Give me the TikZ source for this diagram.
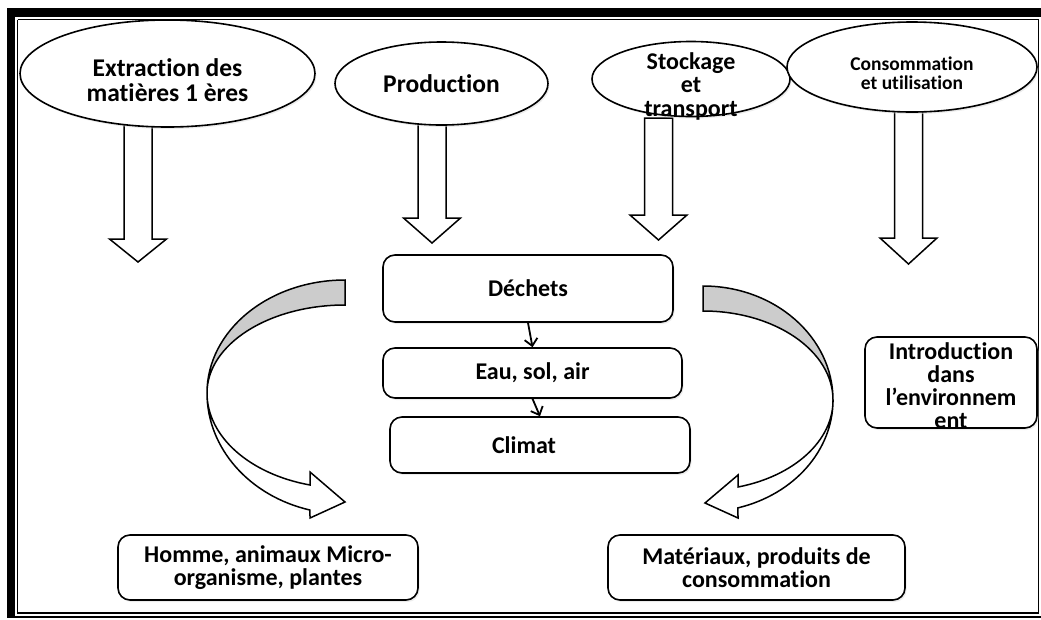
\documentclass[tikz,border=0pt]{standalone}
\usepackage{fontspec}
\setmainfont{Carlito}[Ligatures=NoCommon]
\usetikzlibrary{shapes.geometric,arrows.meta,shadows}

\begin{document}
\begin{tikzpicture}[
  x=1pt, y=-1pt, line width=1.6pt,
  shd/.style={drop shadow={shadow xshift=1.5pt, shadow yshift=-2pt, fill=black!15}},
  stage/.style={draw, ellipse, inner sep=0pt, align=center, fill=white, shd},
  box/.style={draw, rounded corners=12pt, inner sep=0pt, align=center, fill=white, shd},
  blk/.style={draw, fill=white, line width=1.5pt, line join=miter},
  lnk/.style={-{Straight Barb[length=7pt,width=13pt]}, line width=1.8pt},
  fbig/.style={font=\fontsize{25.5}{25}\selectfont\bfseries},
  fmid/.style={font=\fontsize{24}{23}\selectfont\bfseries},
  fstk/.style={font=\fontsize{24}{23.5}\selectfont\bfseries},
  fsml/.style={font=\fontsize{19.5}{18.5}\selectfont\bfseries}
]
\useasboundingbox (0,0) rectangle (1041,619);
% ---------------- frame ------------------------------------------------
\fill (7,8) rectangle (1041,17);
\fill (7,8) rectangle (15,617.5);
\draw[line width=1.2pt] (17.5,19.5) -- (1038.5,19.5) -- (1038.5,613);
\draw[line width=1.2pt] (17.5,19.5) -- (17.5,613);
\draw[line width=2.2pt] (17,613) -- (1039,613);
\draw[line width=1.2pt] (15,617) -- (1041,617);

% ---------------- block arrows from the stages ---------------------------
\foreach \cx/\ya/\yb/\yc in {138/123/239/262, 432/124/218/243, 658.5/118/215/240, 908.5/110/238/264}
  \draw[blk] (\cx-14,\ya) -- (\cx+14,\ya) -- (\cx+14,\yb) -- (\cx+28.5,\yb)
    -- (\cx,\yc) -- (\cx-28.5,\yb) -- (\cx-14,\yb) -- cycle;

% ---------------- stages ------------------------------------------------
\node[stage, minimum width=295pt, minimum height=107pt] (extr) at (167.5,73.5) {};
\node[fbig, align=center] (extrlbl) at (167.5,80) {Extraction des\\matières 1 ères};
\node[stage, fbig, minimum width=213pt, minimum height=83pt] (prod) at (441.5,83.5)
  {Production};
\node[stage, minimum width=198pt, minimum height=75pt] (stock) at (691,79) {};
\node[fstk, align=center] (stocklbl) at (691,86) {Stockage\\et\\transport};
\node[stage, minimum width=250pt, minimum height=90pt] (conso) at (912,67) {};
\node[fsml, align=center] (consolbl) at (912,73) {Consommation\\et utilisation};

% ---------------- curved arrows ----------------------------------------
\draw[blk, fill=black!20] (345,280) arc[start angle=270, end angle=180, x radius=138, y radius=113]
  arc[start angle=180, end angle=270, x radius=138, y radius=88] -- cycle;
\draw[blk] (207,393) arc[start angle=180, end angle=104.7, x radius=138, y radius=121]
  -- (310,518) -- (345,502) -- (310,472) -- (310,485)
  arc[start angle=104.7, end angle=180, x radius=138, y radius=95] -- cycle;
\draw[blk, fill=black!20] (703,286) arc[start angle=270, end angle=360, x radius=130, y radius=114]
  arc[start angle=0, end angle=-90, x radius=130, y radius=89] -- cycle;
\draw[blk] (833,400) arc[start angle=0, end angle=74.4, x radius=130, y radius=112]
  -- (738,518) -- (705,503) -- (738,475) -- (738,487)
  arc[start angle=74.4, end angle=0, x radius=130, y radius=90] -- cycle;

% ---------------- boxes ------------------------------------------------
\node[box, fmid, minimum width=290pt, minimum height=67pt] (dech) at (528,288.5) {Déchets};
\node[box, fmid, minimum width=299pt, minimum height=50pt] (eau) at (532.5,373) {Eau, sol, air};
\node[box, minimum width=300pt, minimum height=56pt] (clim) at (540,445) {};
\node[fmid] (climlbl) at (524,445) {Climat};
\node[box, minimum width=172pt, minimum height=91pt] (intro) at (951,382.5) {};
\node[fmid, align=center] (introlbl) at (951,386) {Introduction\\dans\\l’environnem\\ent};
\node[box, fmid, minimum width=300pt, minimum height=65pt] (homme) at (268,567.5)
  {Homme, animaux Micro-\\organisme, plantes};
\node[box, fmid, minimum width=297pt, minimum height=65pt] (mat) at (756.5,567.5)
  {Matériaux, produits de\\consommation};

\draw[lnk] (dech.south) -- (eau.north);
\draw[lnk] (eau.south) -- (clim.north);
\end{tikzpicture}
\end{document}
